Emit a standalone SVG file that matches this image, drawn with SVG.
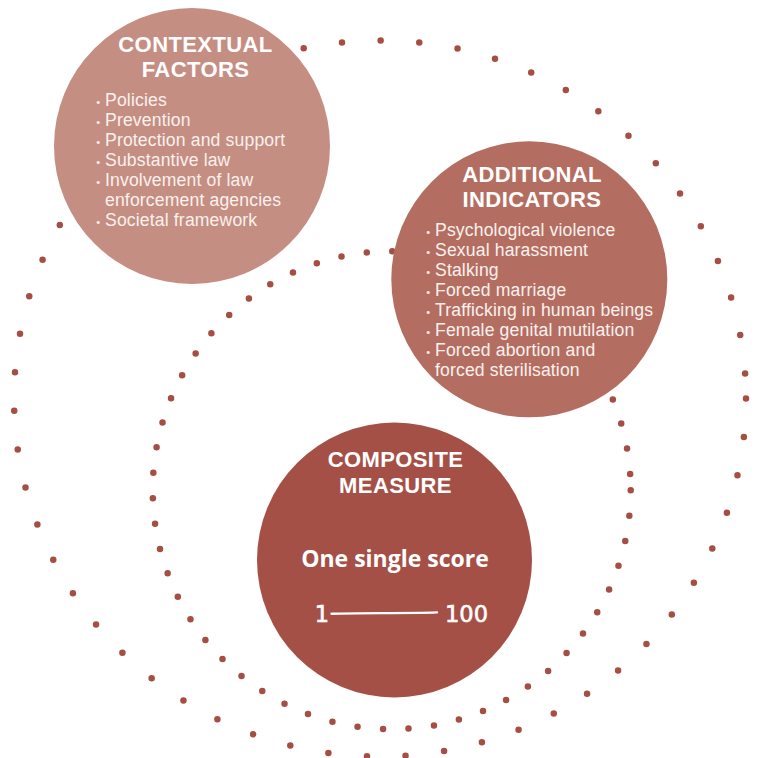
<svg xmlns="http://www.w3.org/2000/svg" width="761" height="758" viewBox="0 0 761 758">
<style>
.ring{fill:none;stroke:#a54e44;stroke-width:6.5;stroke-linecap:round}
.title{font-family:"Liberation Sans",Arial,sans-serif;font-weight:700;font-size:22px;letter-spacing:0.4px;fill:#ffffff;text-anchor:middle}
.item{font-family:"Liberation Sans",Arial,sans-serif;font-weight:400;font-size:17.6px;letter-spacing:0.15px;fill:#fbf1ee}
.bul{font-family:"Liberation Sans",Arial,sans-serif;font-size:11px;fill:#fbf1ee;text-anchor:middle}
.score{font-family:"Open Sans","Liberation Sans",sans-serif;font-weight:700;font-size:23px;fill:#ffffff;text-anchor:middle}
.num{font-family:"DejaVu Sans","Liberation Sans",sans-serif;font-size:22.5px;fill:#ffffff;stroke:#ffffff;stroke-width:0.6px}
</style>
<g id="connectors">
<path id="outer-ring" class="ring" stroke-dasharray="0 38.77" d="M746,398.5 A366,358 0 0 1 380,756.5 A366,358 0 0 1 14,398.5 A366,358 0 0 1 380,40.5 A366,358 0 0 1 746,398.5 Z"/>
<path id="inner-ring" class="ring" stroke-dasharray="0 25.6" d="M630.7,490.2 A239,239 0 0 1 391.7,729.2 A239,239 0 0 1 152.7,490.2 A239,239 0 0 1 391.7,251.2 A239,239 0 0 1 630.7,490.2 Z"/>
</g>
<g id="contextual-factors">
<circle cx="192" cy="146" r="138" fill="#c58e82"/>
<text class="title"><tspan x="195.5" y="52.3">CONTEXTUAL</tspan><tspan x="195.5" y="77.3">FACTORS</tspan></text>
<text class="bul"><tspan x="98.3" y="105.5">•</tspan><tspan x="98.3" y="125.5">•</tspan><tspan x="98.3" y="145.5">•</tspan><tspan x="98.3" y="165.5">•</tspan><tspan x="98.3" y="185.5">•</tspan><tspan x="98.3" y="225.5">•</tspan></text>
<text class="item"><tspan x="105" y="105.5">Policies</tspan><tspan x="105" y="125.5">Prevention</tspan><tspan x="105" y="145.5">Protection and support</tspan><tspan x="105" y="165.5">Substantive law</tspan><tspan x="105" y="185.5">Involvement of law</tspan><tspan x="105" y="205.5">enforcement agencies</tspan><tspan x="105" y="225.5">Societal framework</tspan></text>
</g>
<g id="additional-indicators">
<circle cx="529.3" cy="279.3" r="138" fill="#b46e61"/>
<text class="title"><tspan x="532" y="181.7">ADDITIONAL</tspan><tspan x="532" y="206.7">INDICATORS</tspan></text>
<text class="bul"><tspan x="428.3" y="235.5">•</tspan><tspan x="428.3" y="255.5">•</tspan><tspan x="428.3" y="275.5">•</tspan><tspan x="428.3" y="295.5">•</tspan><tspan x="428.3" y="315.5">•</tspan><tspan x="428.3" y="335.5">•</tspan><tspan x="428.3" y="355.5">•</tspan></text>
<text class="item"><tspan x="435" y="235.5">Psychological violence</tspan><tspan x="435" y="255.5">Sexual harassment</tspan><tspan x="435" y="275.5">Stalking</tspan><tspan x="435" y="295.5">Forced marriage</tspan><tspan x="435" y="315.5">Trafficking in human beings</tspan><tspan x="435" y="335.5">Female genital mutilation</tspan><tspan x="435" y="355.5">Forced abortion and</tspan><tspan x="435" y="375.5">forced sterilisation</tspan></text>
</g>
<g id="composite-measure">
<circle cx="394.5" cy="560" r="137.5" fill="#a55046"/>
<text class="title"><tspan x="395.5" y="466.7">COMPOSITE</tspan><tspan x="395.5" y="492.7">MEASURE</tspan></text>
<text class="score" x="395" y="566.7">One single score</text>
<text class="num" x="329" y="621.5" text-anchor="end">1</text>
<path d="M331.5,613.8 C360,612.6 400,613.6 437,612.4" fill="none" stroke="#ffffff" stroke-width="2.4" stroke-linecap="round"/>
<text class="num" x="445" y="621.5">100</text>
</g>
</svg>
